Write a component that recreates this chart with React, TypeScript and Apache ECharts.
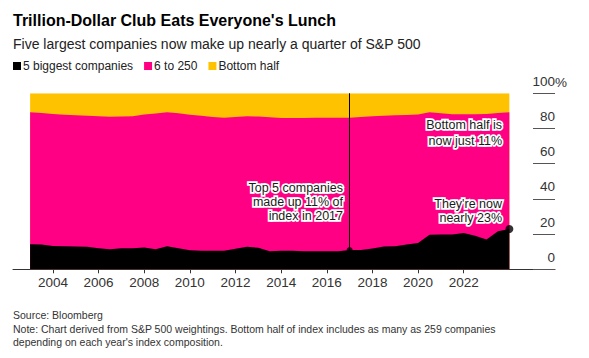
import React, { useEffect, useRef } from "react";
import * as echarts from "echarts";

const years = [
  2003, 2003.5, 2004, 2004.5, 2005, 2005.5, 2006, 2006.5, 2007, 2007.5,
  2008, 2008.5, 2009, 2009.5, 2010, 2010.5, 2011, 2011.5, 2012, 2012.5,
  2013, 2013.5, 2014, 2014.5, 2015, 2015.5, 2016, 2016.5, 2017, 2017.5,
  2018, 2018.5, 2019, 2019.5, 2020, 2020.5, 2021, 2021.5, 2022, 2022.5,
  2023, 2023.5, 2024,
];

// share of S&P 500 weight held by the 5 biggest companies (%)
const top5 = [
  14.3, 14.1, 13.3, 13.1, 13.0, 12.8, 12.0, 11.4, 11.9, 12.0,
  12.4, 11.4, 13.1, 12.0, 10.8, 10.5, 10.5, 10.6, 11.7, 12.8,
  12.2, 10.3, 10.6, 10.6, 10.3, 10.3, 10.3, 10.2, 10.9, 10.9,
  11.8, 12.9, 13.1, 14.1, 15.0, 19.6, 19.8, 19.8, 20.6, 19.0,
  17.0, 21.6, 22.9,
];

// share held by companies ranked 6 to 250 (%)
const mid = [
  74.9, 74.7, 74.9, 74.7, 74.5, 74.5, 75.0, 75.3, 74.9, 74.9,
  75.6, 77.1, 76.1, 76.6, 77.0, 76.7, 76.1, 75.5, 74.9, 74.2,
  74.6, 76.1, 75.3, 75.3, 75.7, 75.8, 75.8, 75.9, 75.2, 75.7,
  75.2, 74.4, 74.4, 73.6, 73.0, 69.6, 68.8, 68.3, 67.5, 69.1,
  71.3, 67.2, 66.3,
];

// share held by the bottom half of the index (%)
const bottomHalf = [
  10.8, 11.2, 11.8, 12.2, 12.5, 12.7, 13.0, 13.3, 13.2, 13.1,
  12.0, 11.5, 10.8, 11.4, 12.2, 12.8, 13.4, 13.9, 13.4, 13.0,
  13.2, 13.6, 14.1, 14.1, 14.0, 13.9, 13.9, 13.9, 13.9, 13.4,
  13.0, 12.7, 12.5, 12.3, 12.0, 10.8, 11.4, 11.9, 11.9, 11.9,
  11.7, 11.2, 10.8,
];

const xTicks = [2004, 2006, 2008, 2010, 2012, 2014, 2016, 2018, 2020, 2022];
const seriesNames = ["5 biggest companies", "6 to 250", "Bottom half"];
const seriesColors = ["#000000", "#ff0084", "#ffc200"];
const highlightYear = 2017;

const FONT = '"Liberation Sans", Arial, Helvetica, sans-serif';

export default function App() {
  const ref = useRef<HTMLDivElement>(null);

  useEffect(() => {
    document.body.style.margin = "0";
    const chart = echarts.init(ref.current!, null, { renderer: "svg" });
    const iHi = years.indexOf(highlightYear);
    const iLast = years.length - 1;
    const layers = [top5, mid, bottomHalf];
    // cumulative tops of each band (ECharts stacks on x when both axes are value axes)
    const cumulative = layers.map((_, k) =>
      years.map((y, i) => {
        let s = 0;
        for (let j = 0; j <= k; j++) s += layers[j][i];
        return [y, Math.round(s * 10) / 10];
      })
    );

    const annotStyle = (text: string, lh: number) => ({
      text,
      font: `12.5px ${FONT}`,
      align: "right",
      verticalAlign: "top",
      lineHeight: lh,
    });
    const annot = (text: string, x: number, y: number, lh: number) => [
      {
        type: "text",
        x,
        y,
        z: 100,
        silent: true,
        style: { ...annotStyle(text, lh), fill: "#ffffff", stroke: "#ffffff", lineWidth: 3.5 },
      },
      {
        type: "text",
        x,
        y,
        z: 101,
        silent: true,
        style: { ...annotStyle(text, lh), fill: "#1a1a1a" },
      },
    ];
    const plain = (text: string, x: number, y: number, font: string, fill: string) => ({
      type: "text",
      x,
      y,
      style: { text, font, fill, align: "left", verticalAlign: "middle" },
    });

    const bands = [2, 1, 0].map((k) => ({
      name: seriesNames[k],
      type: "line",
      data: cumulative[k],
      showSymbol: false,
      silent: true,
      z: 2 + (2 - k),
      lineStyle: { width: 0 },
      itemStyle: { color: seriesColors[k] },
      areaStyle: { color: seriesColors[k], opacity: 1, origin: 0 },
    }));

    chart.setOption({
      animation: false,
      grid: { left: 13, right: 34, top: 93.3, bottom: 88.7, containLabel: false },
      legend: {
        left: 13,
        top: 60,
        padding: 0,
        icon: "rect",
        itemWidth: 8,
        itemHeight: 8,
        itemGap: 11,
        selectedMode: false,
        data: seriesNames,
        textStyle: { fontFamily: FONT, fontSize: 12, color: "#222", padding: [0, 0, 0, -3] },
      },
      xAxis: {
        type: "value",
        min: 2002.25,
        max: 2026,
        axisLine: { show: true, lineStyle: { color: "#333", width: 1 } },
        axisTick: { show: true, customValues: xTicks, length: 4, lineStyle: { color: "#333" } },
        axisLabel: {
          customValues: xTicks,
          formatter: (v: number) => String(v),
          fontFamily: FONT,
          fontSize: 13.5,
          color: "#333",
          margin: 6,
        },
        splitLine: { show: false },
      },
      yAxis: {
        type: "value",
        min: 0,
        max: 100,
        interval: 20,
        position: "right",
        axisLine: { show: false },
        axisTick: { show: true, inside: true, length: 22, lineStyle: { color: "#555" } },
        axisLabel: {
          inside: true,
          margin: 0,
          align: "right",
          verticalAlign: "bottom",
          padding: [0, 0, 5, 0],
          fontFamily: FONT,
          fontSize: 13.5,
          color: "#333",
          formatter: (v: number) => String(v),
        },
        splitLine: { show: false },
      },
      series: [
        ...bands,
        {
          type: "scatter",
          z: 10,
          silent: true,
          itemStyle: { color: "#000" },
          data: [
            { value: [years[iHi], top5[iHi]], symbolSize: 6 },
            { value: [years[iLast], top5[iLast]], symbolSize: 8 },
          ],
          markLine: {
            silent: true,
            symbol: ["none", "none"],
            label: { show: false },
            lineStyle: { color: "#000", width: 1, type: "solid" },
            data: [[{ coord: [years[iHi], top5[iHi]] }, { coord: [years[iHi], 100] }]],
          },
        },
      ],
      graphic: [
        plain("Trillion-Dollar Club Eats Everyone's Lunch", 13, 20, `bold 16px ${FONT}`, "#000"),
        plain("Five largest companies now make up nearly a quarter of S&P 500", 13, 43.5, `14px ${FONT}`, "#222"),
        plain("%", 555, 82.5, `13.5px ${FONT}`, "#333"),
        ...annot("Top 5 companies\nmade up 11% of\nindex in 2017", 343, 181, 14),
        ...annot("Bottom half is\nnow just 11%", 502, 117, 16),
        ...annot("They're now\nnearly 23%", 502, 196.5, 14),
        plain("Source: Bloomberg", 13, 315, `10.5px ${FONT}`, "#333"),
        plain(
          "Note: Chart derived from S&P 500 weightings. Bottom half of index includes as many as 259 companies",
          13, 329, `10.5px ${FONT}`, "#333"
        ),
        plain("depending on each year's index composition.", 13, 342, `10.5px ${FONT}`, "#333"),
      ],
    });
    return () => chart.dispose();
  }, []);

  return <div ref={ref} style={{ width: 589, height: 358 }} />;
}
